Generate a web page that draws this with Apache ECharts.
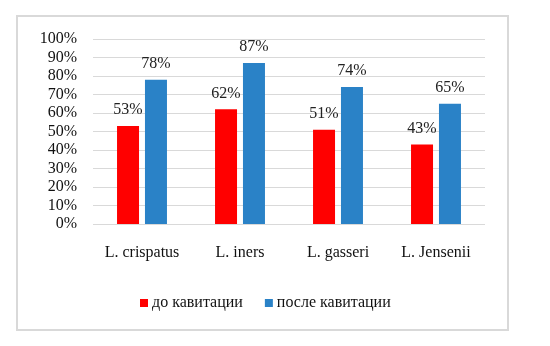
<!DOCTYPE html>
<html>
<head>
<meta charset="utf-8">
<script src="https://cdn.jsdelivr.net/npm/echarts@6/dist/echarts.min.js"></script>
<style>
  html, body { margin: 0; padding: 0; background: #fff; }
  #chart { width: 550px; height: 346px; }
  #frame { position: absolute; left: 16px; top: 15px; width: 489px; height: 312px; border: 2px solid #d9d9d9; pointer-events: none; }
</style>
</head>
<body>
<div id="chart"></div>
<div id="frame"></div>
<script>
const categories = ['L. crispatus', 'L. iners', 'L. gasseri', 'L. Jensenii'];
const before = [53, 62, 51, 43];
const after = [78, 87, 74, 65];
const seriesNames = ['до кавитации', 'после кавитации'];

const font = 'Liberation Serif, Times New Roman, serif';
const chart = echarts.init(document.getElementById('chart'));

const label = {
  show: true, position: 'top', distance: 8,
  formatter: p => p.value + '%',
  color: '#222', fontFamily: font, fontSize: 16
};

chart.setOption({
  animation: false,
  grid: { left: 93, right: 65, top: 39, bottom: 122 },
  legend: {
    bottom: 30, left: 135,
    itemWidth: 8, itemHeight: 8, itemGap: 22,
    icon: 'rect',
    textStyle: { fontFamily: font, fontSize: 16, color: '#111', padding: [0, 0, 0, -1] },
    data: seriesNames
  },
  xAxis: {
    type: 'category', data: categories,
    axisLine: { show: false }, axisTick: { show: false },
    axisLabel: { fontFamily: font, fontSize: 16, color: '#111', margin: 21 }
  },
  yAxis: {
    type: 'value', min: 0, max: 100, interval: 10,
    axisLabel: { formatter: '{value}%', fontFamily: font, fontSize: 16, color: '#111', margin: 16 },
    splitLine: { lineStyle: { color: '#d9d9d9' } }
  },
  series: [
    { name: seriesNames[0], type: 'bar', data: before, barWidth: 22, barGap: '27%',
      itemStyle: { color: '#ff0000' }, label },
    { name: seriesNames[1], type: 'bar', data: after, barWidth: 22,
      itemStyle: { color: '#2a82c7' }, label }
  ]
});
</script>
</body>
</html>
